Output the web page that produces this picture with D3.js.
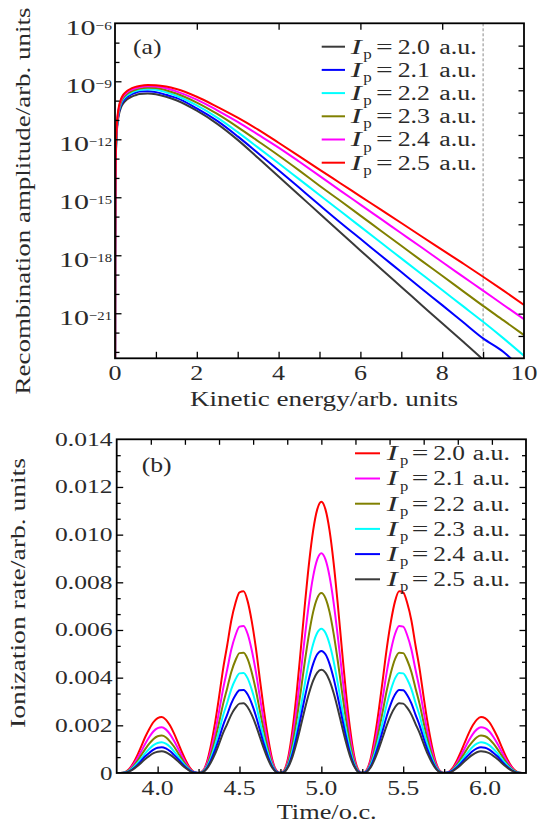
<!DOCTYPE html>
<html><head><meta charset="utf-8">
<script src="https://cdn.jsdelivr.net/npm/d3@7"></script>
<style>body{margin:0;background:#fff}</style>
</head><body>
<svg id="c" width="538" height="823" xmlns="http://www.w3.org/2000/svg"></svg>
<script>
// ---------- Panel (a) data: log10 of recombination amplitude ----------
const energy = [0.001,0.005,0.01,0.02,0.04,0.07,0.1,0.15,0.2,0.3,0.4,0.5,0.6,0.8,1.0,1.25,1.5,2.0,2.5,3.0,3.5,4.0,4.5,5.0,5.5,6.0,6.5,7.0,7.5,8.0,8.5,9.0,9.5,10.0];
const log10AmpIp20 = [-30,-18.5,-15.0,-13.1,-11.8,-11.05,-10.68,-10.34,-10.15,-9.93,-9.8,-9.72,-9.66,-9.63,-9.67,-9.8,-9.98,-10.52,-11.2,-12.03,-12.97,-13.92,-14.88,-15.84,-16.8,-17.75,-18.7,-19.64,-20.58,-21.52,-22.45,-23.4,-24.4,-25.4];
const log10AmpIp21 = [-30,-18.4,-14.9,-13.0,-11.7,-10.95,-10.56,-10.21,-10.02,-9.8,-9.68,-9.59,-9.53,-9.51,-9.56,-9.7,-9.86,-10.4,-11.05,-11.85,-12.72,-13.6,-14.5,-15.4,-16.29,-17.15,-18.01,-18.87,-19.73,-20.58,-21.44,-22.3,-23.0,-24.0];
const log10AmpIp22 = [-30,-18.3,-14.8,-12.9,-11.63,-10.88,-10.48,-10.13,-9.93,-9.72,-9.6,-9.51,-9.45,-9.41,-9.44,-9.57,-9.75,-10.25,-10.88,-11.63,-12.43,-13.24,-14.06,-14.88,-15.7,-16.52,-17.34,-18.16,-18.98,-19.8,-20.62,-21.44,-22.3,-23.2];
const log10AmpIp23 = [-30,-18.2,-14.7,-12.8,-11.55,-10.8,-10.4,-10.05,-9.85,-9.64,-9.52,-9.44,-9.38,-9.33,-9.35,-9.46,-9.63,-10.1,-10.69,-11.37,-12.1,-12.84,-13.61,-14.4,-15.17,-15.95,-16.73,-17.51,-18.29,-19.06,-19.84,-20.62,-21.37,-22.13];
const log10AmpIp24 = [-30,-18.1,-14.6,-12.7,-11.47,-10.72,-10.32,-9.97,-9.77,-9.56,-9.44,-9.36,-9.31,-9.26,-9.27,-9.36,-9.52,-9.95,-10.5,-11.1,-11.76,-12.43,-13.15,-13.89,-14.64,-15.38,-16.12,-16.86,-17.6,-18.35,-19.09,-19.83,-20.57,-21.31];
const log10AmpIp25 = [-30,-18,-14.5,-12.6,-11.4,-10.65,-10.25,-9.9,-9.7,-9.49,-9.37,-9.29,-9.24,-9.19,-9.2,-9.27,-9.4,-9.8,-10.32,-10.88,-11.5,-12.18,-12.87,-13.57,-14.26,-14.95,-15.64,-16.33,-17.03,-17.72,-18.41,-19.11,-19.83,-20.57];
const ipLabelsA = ["2.0","2.1","2.2","2.3","2.4","2.5"];
const xTicksA = [0,2,4,6,8,10];
const yExpTicksA = [-6,-9,-12,-15,-18,-21];
const cutoffEnergy = 9.0;

// ---------- Panel (b) data: ionization rate ----------
const time = [3.75,3.775,3.8,3.825,3.85,3.875,3.9,3.925,3.95,3.975,
4,4.025,4.05,4.075,4.1,4.125,4.15,4.175,4.2,4.225,
4.25,4.275,4.3,4.325,4.35,4.375,4.4,4.425,4.45,4.475,
4.5,4.525,4.55,4.575,4.6,4.625,4.65,4.675,4.7,4.725,
4.75,4.775,4.8,4.825,4.85,4.875,4.9,4.925,4.95,4.975,
5,5.025,5.05,5.075,5.1,5.125,5.15,5.175,5.2,5.225,
5.25,5.275,5.3,5.325,5.35,5.375,5.4,5.425,5.45,5.475,
5.5,5.525,5.55,5.575,5.6,5.625,5.65,5.675,5.7,5.725,
5.75,5.775,5.8,5.825,5.85,5.875,5.9,5.925,5.95,5.975,
6,6.025,6.05,6.075,6.1,6.125,6.15,6.175,6.2,6.225,
6.25];
const rateIp20 = [0,0,0.00003,0.00016,0.00040,0.00073,0.00112,0.00152,0.00186,0.00214,
0.00230,0.00235,0.00224,0.00200,0.00166,0.00126,0.00085,0.00048,0.00019,0.00003,
0,0.00008,0.00044,0.00115,0.00207,0.00318,0.00437,0.00536,0.00640,0.00712,
0.00758,0.00762,0.00720,0.00636,0.00525,0.00391,0.00260,0.00146,0.00057,0.00011,
0,0.00014,0.00074,0.00188,0.00341,0.00523,0.00711,0.00882,0.01018,0.01106,
0.01138,0.01106,0.01018,0.00882,0.00711,0.00523,0.00341,0.00188,0.00074,0.00014,
0,0.00011,0.00057,0.00146,0.00260,0.00391,0.00525,0.00636,0.00720,0.00762,
0.00758,0.00712,0.00640,0.00536,0.00437,0.00318,0.00207,0.00115,0.00044,0.00008,
0,0.00003,0.00019,0.00048,0.00085,0.00126,0.00166,0.00200,0.00224,0.00235,
0.00230,0.00214,0.00186,0.00152,0.00112,0.00073,0.00040,0.00016,0.00003,0,
0];
const rateIp21 = [0,0,0.00002,0.00013,0.00033,0.00060,0.00091,0.00124,0.00152,0.00175,
0.00188,0.00192,0.00183,0.00163,0.00135,0.00103,0.00069,0.00039,0.00015,0.00003,
0,0.00007,0.00036,0.00093,0.00167,0.00257,0.00353,0.00434,0.00518,0.00577,
0.00614,0.00617,0.00583,0.00515,0.00425,0.00316,0.00211,0.00118,0.00047,0.00009,
0,0.00011,0.00060,0.00152,0.00277,0.00424,0.00576,0.00715,0.00825,0.00896,
0.00922,0.00896,0.00825,0.00715,0.00576,0.00424,0.00277,0.00152,0.00060,0.00011,
0,0.00009,0.00047,0.00118,0.00211,0.00316,0.00425,0.00515,0.00583,0.00617,
0.00614,0.00577,0.00518,0.00434,0.00353,0.00257,0.00167,0.00093,0.00036,0.00007,
0,0.00003,0.00015,0.00039,0.00069,0.00103,0.00135,0.00163,0.00183,0.00192,
0.00188,0.00175,0.00152,0.00124,0.00091,0.00060,0.00033,0.00013,0.00002,0,
0];
const rateIp22 = [0,0,0.00002,0.00011,0.00027,0.00049,0.00075,0.00101,0.00124,0.00143,
0.00154,0.00157,0.00150,0.00133,0.00111,0.00084,0.00057,0.00032,0.00013,0.00002,
0,0.00006,0.00029,0.00076,0.00137,0.00211,0.00290,0.00356,0.00424,0.00472,
0.00503,0.00505,0.00478,0.00422,0.00348,0.00259,0.00173,0.00097,0.00038,0.00007,
0,0.00009,0.00049,0.00125,0.00227,0.00347,0.00472,0.00585,0.00676,0.00734,
0.00755,0.00734,0.00676,0.00585,0.00472,0.00347,0.00227,0.00125,0.00049,0.00009,
0,0.00007,0.00038,0.00097,0.00173,0.00259,0.00348,0.00422,0.00478,0.00505,
0.00503,0.00472,0.00424,0.00356,0.00290,0.00211,0.00137,0.00076,0.00029,0.00006,
0,0.00002,0.00013,0.00032,0.00057,0.00084,0.00111,0.00133,0.00150,0.00157,
0.00154,0.00143,0.00124,0.00101,0.00075,0.00049,0.00027,0.00011,0.00002,0,
0];
const rateIp23 = [0,0,0.00002,0.00009,0.00022,0.00040,0.00061,0.00083,0.00102,0.00117,
0.00126,0.00129,0.00123,0.00110,0.00091,0.00069,0.00046,0.00026,0.00010,0.00002,
0,0.00005,0.00024,0.00063,0.00114,0.00175,0.00241,0.00295,0.00352,0.00392,
0.00418,0.00420,0.00397,0.00350,0.00289,0.00215,0.00143,0.00080,0.00032,0.00006,
0,0.00007,0.00039,0.00100,0.00182,0.00278,0.00378,0.00469,0.00541,0.00588,
0.00605,0.00588,0.00541,0.00469,0.00378,0.00278,0.00182,0.00100,0.00039,0.00007,
0,0.00006,0.00032,0.00080,0.00143,0.00215,0.00289,0.00350,0.00397,0.00420,
0.00418,0.00392,0.00352,0.00295,0.00241,0.00175,0.00114,0.00063,0.00024,0.00005,
0,0.00002,0.00010,0.00026,0.00046,0.00069,0.00091,0.00110,0.00123,0.00129,
0.00126,0.00117,0.00102,0.00083,0.00061,0.00040,0.00022,0.00009,0.00002,0,
0];
const rateIp24 = [0,0,0.00001,0.00007,0.00018,0.00033,0.00051,0.00070,0.00085,0.00098,
0.00106,0.00108,0.00103,0.00092,0.00076,0.00058,0.00039,0.00022,0.00009,0.00002,
0,0.00004,0.00020,0.00053,0.00095,0.00145,0.00200,0.00245,0.00292,0.00326,
0.00347,0.00348,0.00329,0.00291,0.00240,0.00179,0.00119,0.00067,0.00026,0.00005,
0,0.00006,0.00033,0.00084,0.00154,0.00236,0.00320,0.00397,0.00458,0.00498,
0.00512,0.00498,0.00458,0.00397,0.00320,0.00236,0.00154,0.00084,0.00033,0.00006,
0,0.00005,0.00026,0.00067,0.00119,0.00179,0.00240,0.00291,0.00329,0.00348,
0.00347,0.00326,0.00292,0.00245,0.00200,0.00145,0.00095,0.00053,0.00020,0.00004,
0,0.00002,0.00009,0.00022,0.00039,0.00058,0.00076,0.00092,0.00103,0.00108,
0.00106,0.00098,0.00085,0.00070,0.00051,0.00033,0.00018,0.00007,0.00001,0,
0];
const rateIp25 = [0,0,0.00001,0.00006,0.00015,0.00028,0.00043,0.00059,0.00072,0.00083,
0.00089,0.00091,0.00087,0.00077,0.00064,0.00049,0.00033,0.00019,0.00007,0.00001,
0,0.00003,0.00017,0.00044,0.00079,0.00122,0.00168,0.00206,0.00245,0.00273,
0.00291,0.00293,0.00276,0.00244,0.00201,0.00150,0.00100,0.00056,0.00022,0.00004,
0,0.00005,0.00028,0.00071,0.00130,0.00199,0.00271,0.00336,0.00388,0.00421,
0.00433,0.00421,0.00388,0.00336,0.00271,0.00199,0.00130,0.00071,0.00028,0.00005,
0,0.00004,0.00022,0.00056,0.00100,0.00150,0.00201,0.00244,0.00276,0.00293,
0.00291,0.00273,0.00245,0.00206,0.00168,0.00122,0.00079,0.00044,0.00017,0.00003,
0,0.00001,0.00007,0.00019,0.00033,0.00049,0.00064,0.00077,0.00087,0.00091,
0.00089,0.00083,0.00072,0.00059,0.00043,0.00028,0.00015,0.00006,0.00001,0,
0];
const ipLabelsB = ["2.0","2.1","2.2","2.3","2.4","2.5"];
const xTicksB = [4.0,4.5,5.0,5.5,6.0];
const yTicksB = [0,0.002,0.004,0.006,0.008,0.010,0.012,0.014];

// ---------- drawing ----------
const FONT = '"Liberation Serif", "Times New Roman", serif';
const TXT = "#2a2a2a";
const svg = d3.select("#c");
svg.append("rect").attr("width",538).attr("height",823).attr("fill","#fff");

function label(g, s, x, y, o) {
  o = o || {};
  const t = g.append("text").attr("x", x).attr("y", y).text(s)
    .attr("font-family", FONT).attr("font-size", o.size || 20)
    .attr("fill", TXT).attr("text-anchor", o.anchor || "start");
  if (o.italic) t.attr("font-style", "italic");
  if (o.len) t.attr("textLength", o.len).attr("lengthAdjust", "spacingAndGlyphs");
  if (o.rotate) t.attr("transform", `rotate(${o.rotate},${x},${y})`);
  return t;
}
function tickAxis(g, axisFn, scale, values, size, tx, ty) {
  const a = axisFn(scale).tickValues(values).tickSize(size).tickSizeOuter(0).tickFormat("");
  const ag = g.append("g").attr("transform", `translate(${tx},${ty})`).call(a);
  ag.select(".domain").remove();
  ag.selectAll(".tick line").attr("stroke", "#000").attr("stroke-width", 1.3);
  return ag;
}

// ===== Panel (a) =====
const A = {l:115, r:524, t:23.3, b:358.3};
const xA = d3.scaleLinear().domain([0,10]).range([A.l, A.r]);
const yA = d3.scaleLog().domain([Math.pow(10,-23.33), 1e-6]).range([A.b, A.t]);
const gA = svg.append("g");
svg.append("clipPath").attr("id","clipA").append("rect")
  .attr("x",A.l).attr("y",A.t).attr("width",A.r-A.l).attr("height",A.b-A.t);

const colorsA = ["#3a3a3a","#0000ff","#00ffff","#808000","#ff00ff","#ff0000"];
const dataA = [log10AmpIp20, log10AmpIp21, log10AmpIp22, log10AmpIp23, log10AmpIp24, log10AmpIp25];
const lineA = d3.line().x((d,i)=>xA(energy[i])).y(d=>yA(Math.pow(10,d))).curve(d3.curveMonotoneX);
const curvesA = gA.append("g").attr("clip-path","url(#clipA)");
curvesA.append("line").attr("x1",xA(cutoffEnergy)).attr("x2",xA(cutoffEnergy))
  .attr("y1",A.t).attr("y2",A.b).attr("stroke","#8a8a8a").attr("stroke-width",1)
  .attr("stroke-dasharray","3,2");
dataA.forEach((arr,k)=>{
  curvesA.append("path").attr("d", lineA(arr)).attr("fill","none")
    .attr("stroke", colorsA[k]).attr("stroke-width", 2);
});

// ticks (a)
tickAxis(gA, d3.axisBottom, xA, d3.range(1,10), -6.5, 0, A.b);
tickAxis(gA, d3.axisTop, xA, [2,4,6,8], -6.5, 0, A.t);
const decadesA = d3.range(-7,-24,-1).map(e=>Math.pow(10,e));
const majorA = yExpTicksA.map(e=>Math.pow(10,e));
tickAxis(gA, d3.axisLeft, yA, decadesA.filter(v=>!majorA.some(m=>Math.abs(Math.log10(m)-Math.log10(v))<0.01)), -4.5, A.l, 0);
tickAxis(gA, d3.axisLeft, yA, majorA.slice(1), -6.5, A.l, 0);
const rA = d3.scaleLinear().domain([0,15]).range([A.b, A.t]);
tickAxis(gA, d3.axisRight, rA, d3.range(1,15), -5.5, A.r, 0);
gA.append("rect").attr("x",A.l).attr("y",A.t).attr("width",A.r-A.l).attr("height",A.b-A.t)
  .attr("fill","none").attr("stroke","#000").attr("stroke-width",1.8);

// tick labels (a)
xTicksA.forEach(v=>{
  label(gA, String(v), xA(v), 380, {anchor:"middle", size:21, len: v>=10?27:13});
});
yExpTicksA.forEach(e=>{
  const y = yA(Math.pow(10,e));
  const sup = "\u2212" + String(-e);
  const supW = sup.length > 2 ? 23 : 16.5;
  label(gA, "10", 112 - supW - 30, y + 11.6, {size:20, len:30});
  label(gA, sup, 112 - supW, y + 6.8, {size:13.5, len:supW});
});
label(gA, "Kinetic energy/arb. units", 324, 405.5, {anchor:"middle", size:21, len:268});
label(gA, "Recombination amplitude/arb. units", 29.5, 201, {anchor:"middle", size:21, len:387, rotate:-90});
label(gA, "(a)", 133, 53.5, {size:21, len:28.5});

// legend (a)
ipLabelsA.forEach((s,i)=>{
  const y = 46.7 + i*23.2;
  gA.append("line").attr("x1",321.7).attr("x2",345).attr("y1",y).attr("y2",y)
    .attr("stroke",colorsA[i]).attr("stroke-width",2);
  label(gA, "I", 350.7, y+6.8, {size:21, italic:true, len:11});
  label(gA, "p", 363.3, y+12, {size:14, len:8.5});
  label(gA, "=", 376, y+6.8, {size:21, len:16.7});
  label(gA, s, 397.7, y+6.8, {size:20.5, len:32.3});
  label(gA, "a.u.", 439.3, y+6.8, {size:20.5, len:37.4});
});

// ===== Panel (b) =====
const B = {l:116.7, r:526, t:439.3, b:773};
const xB = d3.scaleLinear().domain([3.75,6.25]).range([B.l, B.r]);
const yB = d3.scaleLinear().domain([0,0.014]).range([B.b, B.t]);
const gB = svg.append("g");
svg.append("clipPath").attr("id","clipB").append("rect")
  .attr("x",B.l).attr("y",B.t-2).attr("width",B.r-B.l).attr("height",B.b-B.t+2);
const colorsB = ["#ff0000","#ff00ff","#808000","#00ffff","#0000ff","#3a3a3a"];
const dataB = [rateIp20, rateIp21, rateIp22, rateIp23, rateIp24, rateIp25];
const lineB = d3.line().x((d,i)=>xB(time[i])).y(d=>yB(d)).curve(d3.curveMonotoneX);
const curvesB = gB.append("g").attr("clip-path","url(#clipB)");
dataB.forEach((arr,k)=>{
  curvesB.append("path").attr("d", lineB(arr)).attr("fill","none")
    .attr("stroke", colorsB[k]).attr("stroke-width", 2);
});

// ticks (b)
tickAxis(gB, d3.axisBottom, xB, xTicksB, -6.5, 0, B.b);
tickAxis(gB, d3.axisBottom, xB, [4.25,4.75,5.25,5.75], -4, 0, B.b);
const tB = d3.scaleLinear().domain([0,12]).range([B.l, B.r]);
tickAxis(gB, d3.axisTop, tB, d3.range(1,12), -5.5, 0, B.t);
const minorB = d3.range(1,21).filter(k=>k%3!==0).map(k=>k*0.014/21);
tickAxis(gB, d3.axisLeft, yB, yTicksB.slice(1,7), -6.5, B.l, 0);
tickAxis(gB, d3.axisLeft, yB, minorB, -4, B.l, 0);
tickAxis(gB, d3.axisRight, yB, yTicksB.slice(1,7), -6.5, B.r, 0);
tickAxis(gB, d3.axisRight, yB, minorB, -4, B.r, 0);
gB.append("rect").attr("x",B.l).attr("y",B.t).attr("width",B.r-B.l).attr("height",B.b-B.t)
  .attr("fill","none").attr("stroke","#000").attr("stroke-width",1.8);

// tick labels (b)
yTicksB.forEach(v=>{
  const s = v===0 ? "0" : v.toFixed(3);
  label(gB, s, 112.5, yB(v)+6.5, {anchor:"end", size:19.5, len: v===0?12.5:57.5});
});
xTicksB.forEach(v=>{
  label(gB, v.toFixed(1), xB(v), 795, {anchor:"middle", size:20, len:32});
});
label(gB, "Time/o.c.", 326.7, 819, {anchor:"middle", size:21, len:100});
label(gB, "Ionization rate/arb. units", 25, 593, {anchor:"middle", size:20.5, len:270, rotate:-90});
label(gB, "(b)", 141.7, 471.5, {size:21, len:30});

// legend (b)
ipLabelsB.forEach((s,i)=>{
  const y = 453.3 + i*25.2;
  gB.append("line").attr("x1",355).attr("x2",380).attr("y1",y).attr("y2",y)
    .attr("stroke",colorsB[i]).attr("stroke-width",2);
  label(gB, "I", 386.7, y+6.8, {size:21, italic:true, len:11});
  label(gB, "p", 400, y+12, {size:14, len:8.3});
  label(gB, "=", 411.7, y+6.8, {size:21, len:16.6});
  label(gB, s, 433.3, y+6.8, {size:20.5, len:31.7});
  label(gB, "a.u.", 472.7, y+6.8, {size:20.5, len:37.3});
});
</script>
</body></html>
